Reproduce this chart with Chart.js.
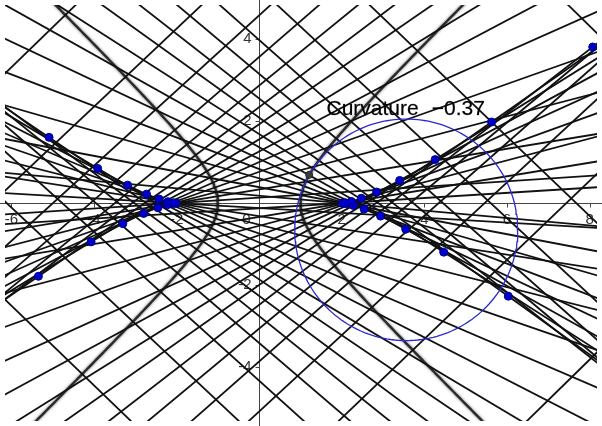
<!DOCTYPE html>
<html lang="en">
<head>
<meta charset="UTF-8">
<title>Hyperbola normals and curvature</title>
<script src="https://cdn.jsdelivr.net/npm/chart.js"></script>
<style>
  html, body { margin: 0; padding: 0; background: #fff; }
  #wrap { width: 602px; height: 426px; }
</style>
</head>
<body>
<div id="wrap"><canvas id="chart"></canvas></div>
<script>
// visible window (units)
const xRange = [-6.155, 8.18];
const yRange = [-5.31, 4.83];
const xTicks = [-6, -4, -2, 2, 4, 6, 8];
const yTicks = [-4, -2, 2, 4];

// foot points of the normals on x^2 - y^2 = 1, given as angle (deg),
// foot = (±sec a, ±tan a); one list per quadrant of the hyperbola
const rightUpper = [5.2, 11.0, 16.8, 22.6, 28.4, 34.3, 40.1, 46.2, 51.9, 57.6, 63.3, 69.1, 74.9, 80.7, 86.5];
const rightLower = [3.6, 9.5, 15.4, 21.3, 27.2, 33.1, 39.0, 44.9, 51.1, 56.8, 62.6, 68.5, 74.4, 80.3, 86.2];
const leftUpper  = [3.8, 9.5, 15.2, 20.9, 26.6, 32.2, 37.9, 43.9, 49.5, 55.1, 60.7, 66.4, 72.0, 77.7, 83.4];
const leftLower  = [3.4, 9.0, 14.7, 20.3, 25.6, 31.1, 36.9, 42.9, 48.5, 54.0, 59.6, 65.2, 70.9, 76.5, 82.2];

// marked point, its osculating circle and the shown value
const markedPoint = [1.21, 0.69];
const circleCenter = [3.56, -0.65];
const circleRadius = 2.7;
const curvatureText = ['Curvature', '\u22120.37'];

const rad = d => d * Math.PI / 180;
const datasets = [];
const centers = [];

function addNormals(list, sx, sy) {
  list.forEach(a => {
    const x0 = sx / Math.cos(rad(a));
    const y0 = sy * Math.tan(rad(a));
    const m = -y0 / x0;
    datasets.push({
      data: [
        { x: xRange[0] - 1, y: y0 + m * (xRange[0] - 1 - x0) },
        { x: xRange[1] + 1, y: y0 + m * (xRange[1] + 1 - x0) }
      ],
      showLine: true, borderColor: '#111', borderWidth: 1.8,
      pointRadius: 0, order: 4
    });
    centers.push({ x: 2 * x0 * x0 * x0, y: -2 * y0 * y0 * y0 });
  });
}
addNormals(rightUpper, 1, 1);
addNormals(rightLower, 1, -1);
addNormals(leftUpper, -1, 1);
addNormals(leftLower, -1, -1);

// the hyperbola branches
[1, -1].forEach(s => {
  const pts = [];
  for (let y = yRange[0] - 0.3; y <= yRange[1] + 0.3; y += 0.05) {
    pts.push({ x: s * Math.sqrt(1 + y * y), y: y });
  }
  datasets.push({
    label: 'hyperbola', data: pts, showLine: true,
    borderColor: 'rgba(20,20,20,0.85)', borderWidth: 2.4,
    pointRadius: 0, order: 3
  });
});

// osculating circle
const circ = [];
for (let i = 0; i <= 180; i++) {
  const t = i * 2 * Math.PI / 180;
  circ.push({ x: circleCenter[0] + circleRadius * Math.cos(t), y: circleCenter[1] + circleRadius * Math.sin(t) });
}
datasets.push({
  data: circ, showLine: true, borderColor: '#2a2ad0', borderWidth: 1.3,
  pointRadius: 0, order: 2
});

// centres of curvature
datasets.push({
  data: centers, showLine: false, pointRadius: 4,
  pointBackgroundColor: '#0000cc', pointBorderColor: '#00008a', pointBorderWidth: 1, order: 1
});
datasets.push({
  data: [{ x: markedPoint[0], y: markedPoint[1] }], showLine: false, pointRadius: 3.5,
  pointBackgroundColor: '#3a3a3a', pointBorderColor: '#222', order: 0
});

const glowPlugin = {
  id: 'glow',
  beforeDatasetDraw(chart, args) {
    if (args.meta._dataset.label === 'hyperbola') {
      chart.ctx.save();
      chart.ctx.shadowColor = 'rgba(0,0,0,0.7)';
      chart.ctx.shadowBlur = 3;
    }
  },
  afterDatasetDraw(chart, args) {
    if (args.meta._dataset.label === 'hyperbola') chart.ctx.restore();
  }
};

// axes drawn through the origin, GeoGebra style
const axesPlugin = {
  id: 'axes',
  beforeDatasetsDraw(chart) {
    const ctx = chart.ctx;
    const xs = chart.scales.x, ys = chart.scales.y;
    const ox = Math.round(xs.getPixelForValue(0)) + 0.5;
    const oy = Math.round(ys.getPixelForValue(0)) + 0.5;
    ctx.save();
    ctx.strokeStyle = '#444';
    ctx.lineWidth = 1;
    ctx.beginPath();
    ctx.moveTo(0, oy); ctx.lineTo(chart.width, oy);
    ctx.moveTo(ox, 0); ctx.lineTo(ox, chart.height);
    xTicks.forEach(v => {
      const px = Math.round(xs.getPixelForValue(v)) + 0.5;
      ctx.moveTo(px, oy); ctx.lineTo(px, oy + 4);
    });
    yTicks.forEach(v => {
      const py = Math.round(ys.getPixelForValue(v)) + 0.5;
      ctx.moveTo(ox - 4, py); ctx.lineTo(ox, py);
    });
    ctx.stroke();
    ctx.fillStyle = '#333';
    ctx.font = '15px "Liberation Sans", Arial, sans-serif';
    ctx.textAlign = 'center';
    ctx.textBaseline = 'middle';
    xTicks.forEach(v => ctx.fillText(String(v), xs.getPixelForValue(v), oy + 16));
    ctx.textAlign = 'right';
    yTicks.forEach(v => ctx.fillText(String(v), ox - 8, ys.getPixelForValue(v)));
    ctx.fillText('0', ox - 9, oy + 16);
    ctx.restore();
  }
};

const textPlugin = {
  id: 'texts',
  afterDraw(chart) {
    const ctx = chart.ctx;
    const xs = chart.scales.x, ys = chart.scales.y;
    ctx.save();
    ctx.fillStyle = '#000';
    ctx.strokeStyle = 'rgba(0,0,0,0.5)';
    ctx.lineWidth = 0.4;
    ctx.font = '21px "Liberation Sans", Arial, sans-serif';
    ctx.textAlign = 'left';
    ctx.textBaseline = 'alphabetic';
    const by = ys.getPixelForValue(2.14);
    [[curvatureText[0], 1.63], [curvatureText[1], 4.18]].forEach(([t, x]) => {
      ctx.fillText(t, xs.getPixelForValue(x), by);
      ctx.strokeText(t, xs.getPixelForValue(x), by);
    });
    ctx.restore();
  }
};

new Chart(document.getElementById('chart'), {
  type: 'scatter',
  data: { datasets: datasets },
  options: {
    responsive: true,
    maintainAspectRatio: false,
    animation: false,
    layout: { padding: 0 },
    plugins: { legend: { display: false }, tooltip: { enabled: false } },
    scales: {
      x: { type: 'linear', min: xRange[0], max: xRange[1], display: false },
      y: { type: 'linear', min: yRange[0], max: yRange[1], display: false }
    }
  },
  plugins: [axesPlugin, glowPlugin, textPlugin]
});
</script>
</body>
</html>
